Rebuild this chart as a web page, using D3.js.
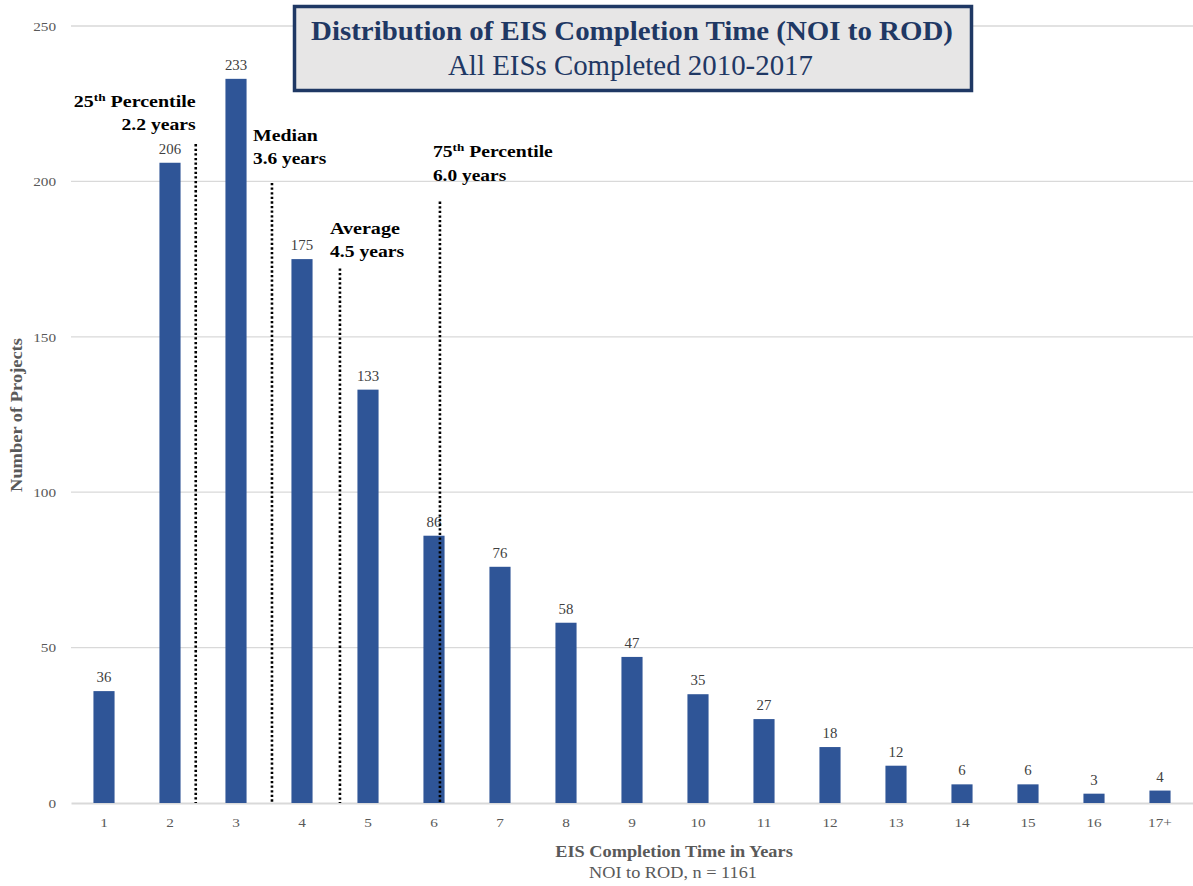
<!DOCTYPE html>
<html>
<head>
<meta charset="utf-8">
<script src="https://cdn.jsdelivr.net/npm/d3@7"></script>
<style>
  html, body { margin: 0; padding: 0; background: #ffffff; }
  svg { display: block; }
</style>
</head>
<body>
<svg id="chart" width="1193" height="886"></svg>
<script>
// ---- data ----
const categories = ["1","2","3","4","5","6","7","8","9","10","11","12","13","14","15","16","17+"];
const projectCounts = [36, 206, 233, 175, 133, 86, 76, 58, 47, 35, 27, 18, 12, 6, 6, 3, 4];
const yTicks = [0, 50, 100, 150, 200, 250];

// reference lines: position on the category axis (1 = first bar), and top of the dotted line (in projects)
const statNames = ["25", "Median", "Average", "75"];
const statValues = ["2.2 years", "3.6 years", "4.5 years", "6.0 years"];
const statAxisPos = [2.39, 3.545, 4.575, 6.09];
const statLineTop = [212, 199.5, 172, 193.5];

const titleText = "Distribution of EIS Completion Time (NOI to ROD)";
const subtitleText = "All EISs Completed 2010-2017";
const xTitle = "EIS Completion Time in Years";
const xSubtitle = "NOI to ROD, n = 1161";
const yTitle = "Number of Projects";

// ---- helpers ----
function stretch(sel, sx) {
  sel.each(function () {
    const t = d3.select(this);
    const x = +t.attr("x") || 0, y = +t.attr("y") || 0;
    t.attr("transform", `translate(${x},${y}) scale(${sx},1) translate(${-x},${-y})`);
  });
}
function fitWidth(sel, target) {
  sel.each(function () {
    const w = this.getBBox().width;
    stretch(d3.select(this), target / w);
  });
}

// ---- layout ----
const svg = d3.select("#chart");
const serif = "'Liberation Serif', 'Times New Roman', serif";
const plot = { left: 71, right: 1193, top: 26, bottom: 803 };
const SX = 1.13;

const x = d3.scaleBand().domain(categories)
  .range([plot.left, plot.right])
  .paddingInner(0.68).paddingOuter(0.34);
const y = d3.scaleLinear().domain([0, 250]).range([plot.bottom, plot.top]);
const xPos = d3.scaleLinear().domain([1, categories.length])
  .range([x(categories[0]) + x.bandwidth() / 2, x(categories[categories.length - 1]) + x.bandwidth() / 2]);

// gridlines
svg.append("g").selectAll("line").data(yTicks.filter(d => d > 0)).join("line")
  .attr("x1", plot.left).attr("x2", plot.right)
  .attr("y1", d => y(d)).attr("y2", d => y(d))
  .attr("stroke", "#d9d9d9").attr("stroke-width", 1.3);

// y axis
const yAxis = svg.append("g").attr("transform", `translate(${plot.left},0)`)
  .call(d3.axisLeft(y).tickValues(yTicks).tickSize(0).tickPadding(15));
yAxis.select(".domain").remove();
yAxis.selectAll("text").attr("font-family", serif).attr("font-size", 13.5).attr("fill", "#595959");
stretch(yAxis.selectAll("text"), SX);

// x axis
const xAxis = svg.append("g").attr("transform", `translate(0,${plot.bottom})`)
  .call(d3.axisBottom(x).tickSize(0).tickPadding(14));
xAxis.select(".domain").attr("stroke", "#d9d9d9").attr("stroke-width", 2);
xAxis.selectAll("text").attr("font-family", serif).attr("font-size", 13.5).attr("fill", "#595959");
stretch(xAxis.selectAll("text"), SX);

// bars
svg.append("g").selectAll("rect").data(projectCounts).join("rect")
  .attr("x", (d, i) => x(categories[i]))
  .attr("width", x.bandwidth())
  .attr("y", d => y(d))
  .attr("height", d => y(0) - y(d))
  .attr("fill", "#2f5597");

// value labels
const vl = svg.append("g").selectAll("text").data(projectCounts).join("text")
  .attr("x", (d, i) => x(categories[i]) + x.bandwidth() / 2)
  .attr("y", d => y(d) - 9)
  .attr("text-anchor", "middle")
  .attr("font-family", serif).attr("font-size", 14).attr("fill", "#404040")
  .text(d => d);
stretch(vl, 1.06);

// dotted reference lines
svg.append("g").selectAll("line").data(statAxisPos).join("line")
  .attr("x1", d => xPos(d)).attr("x2", d => xPos(d))
  .attr("y1", (d, i) => y(statLineTop[i])).attr("y2", plot.bottom)
  .attr("stroke", "#000").attr("stroke-width", 2.6).attr("stroke-dasharray", "2.3,2.3");

// annotations: offset from line x / line top, anchor, target widths of the two lines
const annLayout = [
  { dx: 0, anchor: "end", gap: 14, lead: 23, w1: 122, w2: 75 },
  { dx: -19, anchor: "start", gap: 19, lead: 23, w1: 65, w2: 74 },
  { dx: -10, anchor: "start", gap: 11, lead: 23, w1: 70, w2: 75 },
  { dx: -7, anchor: "start", gap: 21, lead: 24, w1: 120, w2: 74 }
];
statNames.forEach((name, i) => {
  const L = annLayout[i];
  const lx = xPos(statAxisPos[i]) + L.dx;
  const ly = y(statLineTop[i]) - L.gap;
  const g = svg.append("g").attr("font-family", serif).attr("font-weight", "bold")
    .attr("font-size", 16.5).attr("fill", "#000").attr("text-anchor", L.anchor);
  const t1 = g.append("text").attr("x", lx).attr("y", ly - L.lead);
  if (name === "25" || name === "75") {
    t1.append("tspan").text(name);
    t1.append("tspan").attr("font-size", 11).attr("dy", -6).text("th");
    t1.append("tspan").attr("dy", 6).text(" Percentile");
  } else {
    t1.text(name);
  }
  fitWidth(t1, L.w1);
  const t2 = g.append("text").attr("x", lx).attr("y", ly).text(statValues[i]);
  fitWidth(t2, L.w2);
});

// title box
svg.append("rect").attr("x", 294.5).attr("y", 6.5).attr("width", 677).attr("height", 84)
  .attr("fill", "#e7e6e6").attr("stroke", "#1f3864").attr("stroke-width", 3.5);
const tt = svg.append("text").attr("x", 632).attr("y", 40).attr("text-anchor", "middle")
  .attr("font-family", serif).attr("font-weight", "bold").attr("font-size", 26.5)
  .attr("fill", "#1f3864").text(titleText);
fitWidth(tt, 642);
const st = svg.append("text").attr("x", 630.5).attr("y", 75).attr("text-anchor", "middle")
  .attr("font-family", serif).attr("font-size", 29)
  .attr("fill", "#1f3864").text(subtitleText);
fitWidth(st, 365);

// axis titles
const xt = svg.append("text").attr("x", 674).attr("y", 857).attr("text-anchor", "middle")
  .attr("font-family", serif).attr("font-weight", "bold").attr("font-size", 17)
  .attr("fill", "#595959").text(xTitle);
fitWidth(xt, 238);
const xs = svg.append("text").attr("x", 673).attr("y", 878).attr("text-anchor", "middle")
  .attr("font-family", serif).attr("font-size", 16)
  .attr("fill", "#595959").text(xSubtitle);
fitWidth(xs, 168);
const yt = svg.append("g").attr("transform", "translate(22,415) rotate(-90)")
  .append("text").attr("x", 0).attr("y", 0).attr("text-anchor", "middle")
  .attr("font-family", serif).attr("font-weight", "bold").attr("font-size", 16)
  .attr("fill", "#595959").text(yTitle);
fitWidth(yt, 154);
</script>
</body>
</html>
